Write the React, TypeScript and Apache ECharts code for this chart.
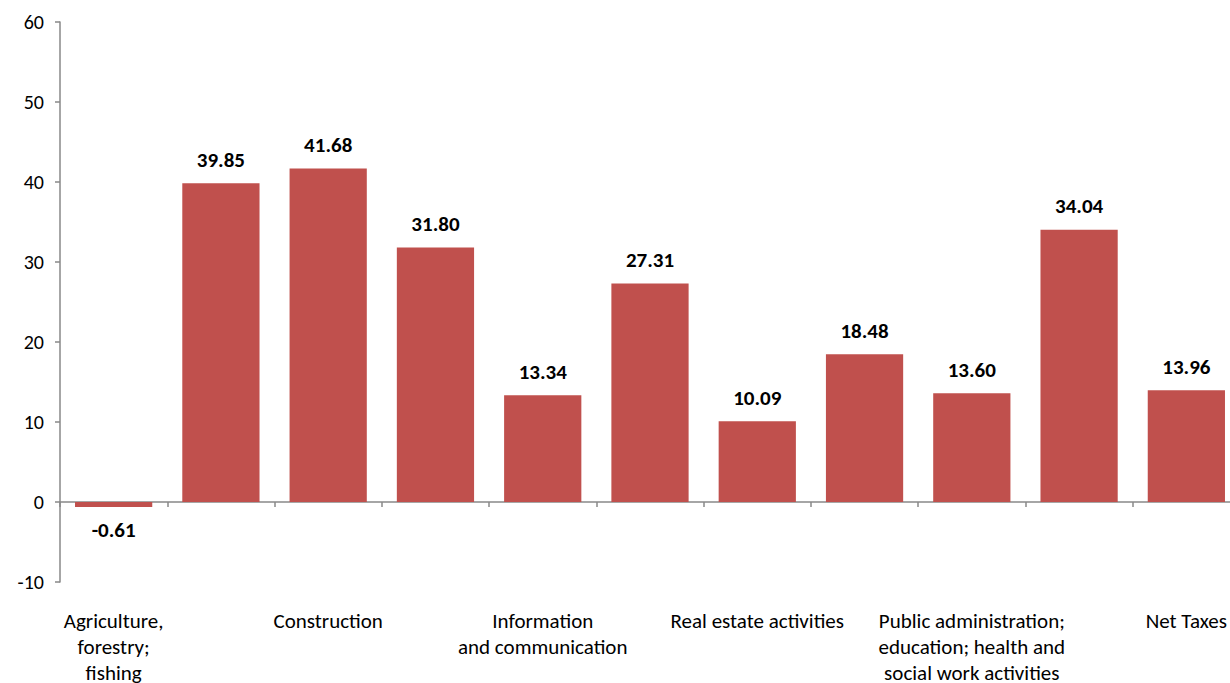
import React, { useEffect, useRef } from "react";
import * as echarts from "echarts";

const categories = [
  "Agriculture,\nforestry;\nfishing",
  "Industry (except construction)",
  "Construction",
  "Wholesale and retail trade, transport, accommodation and food service activities",
  "Information\nand communication",
  "Financial and insurance activities",
  "Real estate activities",
  "Professional, scientific and technical activities; administrative and support service activities",
  "Public administration;\neducation; health and\nsocial work activities",
  "Arts, entertainment and recreation; other service activities",
  "Net Taxes",
];
const values = [-0.61, 39.85, 41.68, 31.8, 13.34, 27.31, 10.09, 18.48, 13.6, 34.04, 13.96];
const yTicks = { min: -10, max: 60, interval: 10 };

const FONT = "Carlito, Calibri, 'Open Sans', sans-serif";

export default function App() {
  const ref = useRef<HTMLDivElement>(null);
  useEffect(() => {
    if (!ref.current) return;
    const chart = echarts.init(ref.current, undefined, { renderer: "svg" });
    chart.setOption({
      animation: false,
      grid: { left: 60, right: 0, top: 22, bottom: 718 - 582, containLabel: false, outerBoundsMode: "none" },
      xAxis: {
        type: "category",
        data: categories,
        axisLine: { onZero: true, lineStyle: { color: "#888", width: 1.5 } },
        axisTick: { show: true, interval: 0, length: 5, lineStyle: { color: "#888", width: 1.5 } },
        axisLabel: {
          interval: 1,
          margin: 26,
          color: "#000",
          fontSize: 21,
          fontFamily: FONT,
          lineHeight: 26,
        },
      },
      yAxis: {
        type: "value",
        min: yTicks.min,
        max: yTicks.max,
        interval: yTicks.interval,
        splitLine: { show: false },
        axisLine: { show: true, lineStyle: { color: "#888", width: 1.5 } },
        axisTick: { show: true, length: 5, lineStyle: { color: "#888", width: 1.5 } },
        axisLabel: { color: "#000", fontSize: 20, fontFamily: FONT, margin: 16 },
      },
      series: [
        {
          type: "bar",
          barCategoryGap: "28%",
          itemStyle: { color: "#C0504D" },
          data: values.map((v) => ({
            value: v,
            label: { position: v < 0 ? "bottom" : "top" },
          })),
          label: {
            show: true,
            distance: 13,
            color: "#000",
            fontWeight: "bold",
            fontSize: 21,
            fontFamily: FONT,
            formatter: (p: any) => Number(p.value).toFixed(2),
          },
        },
      ],
    });
    return () => chart.dispose();
  }, []);
  return (
    <div style={{ position: "fixed", left: 0, top: 0, width: 1230, height: 683, overflow: "hidden", background: "#fff" }}>
      <div ref={ref} style={{ width: 1240, height: 718 }} />
    </div>
  );
}
